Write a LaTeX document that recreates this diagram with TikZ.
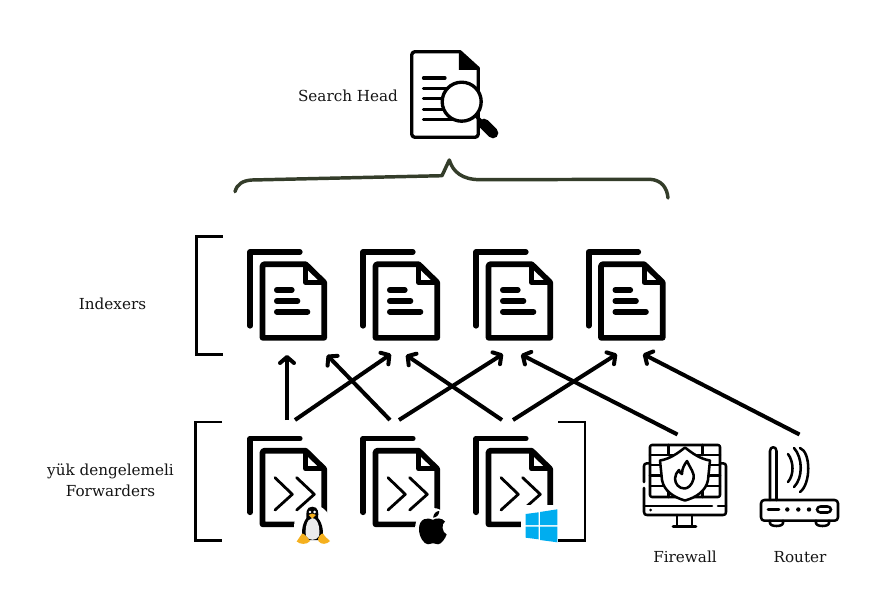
\documentclass[tikz,border=0pt]{standalone}
\usepackage{fontspec}
\setmainfont{DejaVu Serif}
\usetikzlibrary{arrows.meta}

\definecolor{bracecol}{HTML}{343D2A}
\definecolor{winblue}{HTML}{00ADEF}
\definecolor{tuxorange}{HTML}{F5B01E}

\tikzset{
  labeltext/.style={inner sep=0.75pt,font=\fontsize{11.4}{15.75}\selectfont,align=center,text=black!92},
  thickdoc/.style={line width=4.2pt,line cap=round,line join=round},
  flowarrow/.style={line width=3pt,-{Straight Barb[length=4.5pt,width=10.5pt,round]}},
  groupbracket/.style={line width=1.9pt},
  thinicon/.style={line width=1.9pt,line cap=round,line join=round},
  docpage/.pic={
    \draw [thickdoc] (51.8,2) -- (2.2,2) -- (2.2,75.8);
    \draw [thickdoc] (57.7,14.2) -- (16,14.2) -- (14.5,15.7) -- (14.5,87.8) -- (76.2,87.8) -- (76.2,32.3) -- cycle;
    \draw [line width=4pt,line join=round] (57.7,14.2) -- (57.7,32.3) -- (76.2,32.3);
  },
  indexerdoc/.pic={
    \pic {docpage};
    \draw [thickdoc] (28.8,40) -- (43.8,40);
    \draw [thickdoc] (28.8,51) -- (49.5,51);
    \draw [thickdoc] (28.8,61.7) -- (59.5,61.7);
  },
  forwarderdoc/.pic={
    \pic {docpage};
    \draw [line width=2.1pt,line cap=round,line join=round] (27,41.2) -- (44.3,57.8) -- (27,73.5);
    \draw [line width=2.1pt,line cap=round,line join=round] (48.7,41.2) -- (66.3,57.8) -- (48.7,73.5);
  },
}

\begin{document}
\begin{tikzpicture}[x=0.75pt,y=-0.75pt]
\useasboundingbox (0,0) rectangle (882,613);

%Shape: Search Head document
\draw [line width=2.5pt,line join=round] (460,51.7) -- (415,51.7) .. controls (413,51.7) and (411.7,53) .. (411.7,55) -- (411.7,134) .. controls (411.7,136) and (413,137.3) .. (415,137.3) -- (475,137.3) .. controls (477,137.3) and (478.3,136) .. (478.3,134) -- (478.3,68.3) -- cycle;
\fill [black] (458.8,50.5) -- (458.8,70) -- (479.5,70) -- cycle;
\draw [line width=2.5pt,line cap=round] (423.5,78) -- (445,78);
\draw [line width=2.5pt,line cap=round] (423.5,88.3) -- (450,88.3);
\draw [line width=2.5pt,line cap=round] (423.5,98.7) -- (450,98.7);
\draw [line width=2.5pt,line cap=round] (423.5,109.3) -- (450,109.3);
\draw [line width=2.5pt,line cap=round] (423.5,119.3) -- (455,119.3);
\draw [line width=2.5pt,fill=white] (461.7,101.7) circle [radius=19.5];
\draw [line width=2.5pt] (476,116) -- (484,124);
\draw [line width=8pt,line cap=round] (484,124) -- (493,133);

%Shape: Brace
\draw [bracecol,line width=2.6pt,line cap=round,line join=round] (235,191.7) .. controls (237,184) and (243,180.5) .. (252,180) -- (442,175.7) -- (449.3,160) .. controls (453,172) and (462,179.5) .. (480,179.7) -- (650,179.3) .. controls (661,180) and (667,187) .. (668,198);

%Shape: Indexer documents
\pic at (248,250) {indexerdoc};
\pic at (361,250) {indexerdoc};
\pic at (474,250) {indexerdoc};
\pic at (586.5,250) {indexerdoc};

%Shape: Forwarder documents
\pic at (248,436.5) {forwarderdoc};
\pic at (361,436.5) {forwarderdoc};
\pic at (474,436.5) {forwarderdoc};

%Shape: Group brackets
\draw [groupbracket] (222.5,236.7) -- (196.7,236.7) -- (196.7,354.3) -- (222.5,354.3);
\draw [groupbracket] (222,422) -- (195.5,422) -- (195.5,540.7) -- (222,540.7);
\draw [groupbracket] (558.3,422) -- (585,422) -- (585,540.7) -- (558.3,540.7);

%Shape: Tux
\fill [white] (313,527) ellipse [x radius=19,y radius=22];
\fill [black] (312.3,506.7) .. controls (306,506.7) and (306,513) .. (306.5,518) .. controls (302,524) and (301,533) .. (303,540) -- (322,540) .. controls (324,533) and (323,524) .. (318,518) .. controls (318.7,513) and (318.7,506.7) .. (312.3,506.7) -- cycle;
\fill [black!8] (312.3,518) .. controls (306,519) and (305,530) .. (306,536) .. controls (308,541) and (317,541) .. (319,536) .. controls (320,530) and (319,519) .. (312.3,518) -- cycle;
\fill [white] (310,512) circle [radius=1.4];
\fill [white] (314.6,512) circle [radius=1.4];
\fill [tuxorange] (308.5,515) -- (312.3,513.5) -- (316,515) -- (312.3,518.5) -- cycle;
\fill [tuxorange] (302,533.5) .. controls (304,533) and (308,538) .. (310,541) .. controls (307,545) and (300,544.5) .. (296.7,541.5) .. controls (298,539) and (300,537) .. (302,533.5) -- cycle;
\fill [tuxorange] (323,533.5) .. controls (321,533) and (317,538) .. (318.3,541) .. controls (321,545) and (327,544.5) .. (330,541) .. controls (328,539) and (325,537) .. (323,533.5) -- cycle;

%Shape: Apple
\fill [white] (433,529) ellipse [x radius=18,y radius=21];
\fill [black] (433,519.8) .. controls (428,517) and (419,518) .. (419,529) .. controls (419,537) and (424,544.3) .. (428,544.3) .. controls (430,544.3) and (431,543.2) .. (433,543.2) .. controls (435,543.2) and (436,544.3) .. (438,544.3) .. controls (441,544.3) and (445,539) .. (446.7,534.5) .. controls (442,532.5) and (441,524) .. (445,521.5) .. controls (442,517.5) and (436,518) .. (433,519.8) -- cycle;
\fill [black] (433.2,517.7) .. controls (433.2,514) and (436,511) .. (439.3,511) .. controls (439.5,514.5) and (436.5,517.5) .. (433.2,517.7) -- cycle;

%Shape: Windows
\fill [white] (521,505) rectangle (558,546);
\fill [winblue] (525.7,514) -- (538.5,512.3) -- (538.5,525) -- (525.7,525) -- cycle;
\fill [winblue] (540,512) -- (557.3,509.3) -- (557.3,525) -- (540,525) -- cycle;
\fill [winblue] (525.7,526.7) -- (538.5,526.7) -- (538.5,539.3) -- (525.7,537.7) -- cycle;
\fill [winblue] (540,526.7) -- (557.3,526.7) -- (557.3,542.3) -- (540,540) -- cycle;

%Shape: Firewall
\draw [thinicon] (650,463.3) -- (647,463.3) .. controls (645,463.3) and (644,464.5) .. (644,466) -- (644,482);
\draw [thinicon] (644,488) -- (644,512) .. controls (644,514) and (645,515) .. (647,515) -- (723,515) .. controls (725,515) and (726,514) .. (726,512) -- (726,466) .. controls (726,464.5) and (725,463.3) .. (723,463.3) -- (720,463.3);
\draw [thinicon] (644,506) -- (712,506);
\draw [thinicon] (718,506) -- (726,506);
\fill (650.7,510) circle [radius=1.5];
\draw [thinicon] (677,515) -- (677,526);
\draw [thinicon] (692,515) -- (692,526);
\draw [thinicon] (673,526.5) -- (696,526.5);
\draw [thinicon,rounded corners=1.5pt] (650,497) -- (650,445) -- (720,445) -- (720,497) -- cycle;
\draw [thinicon] (650,455) -- (720,455);
\draw [thinicon] (650,465) -- (720,465);
\draw [thinicon] (650,475.7) -- (720,475.7);
\draw [thinicon] (650,486) -- (720,486);
\draw [thinicon] (668.3,445) -- (668.3,455);
\draw [thinicon] (702.7,445) -- (702.7,455);
\draw [thinicon] (668.3,486) -- (668.3,497);
\draw [thinicon] (702.7,486) -- (702.7,497);
%Shape: Firewall shield
\draw [thinicon,fill=white] (685,447.5) .. controls (692,453) and (700,459) .. (710,460.5) -- (708,480) .. controls (706,491) and (696,497.5) .. (685,500.5) .. controls (674,497.5) and (664,491) .. (662,480) -- (660,460.5) .. controls (670,459) and (678,453) .. (685,447.5) -- cycle;
\draw [thinicon] (687,461) .. controls (690,468) and (695,473) .. (693.5,479) .. controls (692,485) and (688,488.5) .. (684.5,488.5) .. controls (679,488.5) and (675,484) .. (675,478.5) .. controls (675,475) and (677,472) .. (679,470) .. controls (679.5,472) and (680.5,473.5) .. (682,474) .. controls (682,469) and (684,465) .. (687,461) -- cycle;

%Shape: Router
\draw [thinicon,rounded corners=2.5pt] (761,500) rectangle (838,520.7);
\draw [thinicon] (770,520.7) -- (770,523) .. controls (770,527) and (783,527) .. (783,523) -- (783,520.7);
\draw [thinicon] (816,520.7) -- (816,523) .. controls (816,527) and (829,527) .. (829,523) -- (829,520.7);
\draw [thinicon] (770,500) -- (770,451) .. controls (770,446) and (776.5,446) .. (776.5,451) -- (776.5,500);
\draw [thinicon] (788,454) .. controls (794,462) and (794,475) .. (788,482);
\draw [thinicon] (794,448) .. controls (803,458) and (803,478) .. (794,487);
\draw [thinicon] (800,448) .. controls (811,452) and (811,484) .. (800,492);
\draw [line width=2.2pt,line cap=round] (768,509.5) -- (779,509.5);
\fill (787.3,509.5) circle [radius=2.2];
\fill (798.3,509.5) circle [radius=2.2];
\fill (809,509.5) circle [radius=2.2];
\draw [thinicon,rounded corners=2.5pt] (817,506.5) rectangle (831,512.5);

%Shape: Flow arrows
\coordinate (fwdA1) at (287,420);
\coordinate (idxA) at (287,355);
\coordinate (fwdA2) at (295,420);
\coordinate (idxB1) at (391,354);
\coordinate (fwdB1) at (390,420);
\coordinate (idxA2) at (327,355);
\coordinate (fwdB2) at (399,420);
\coordinate (idxC1) at (503,354);
\coordinate (fwdC1) at (502,420);
\coordinate (idxB2) at (406,355);
\coordinate (fwdC2) at (513,420);
\coordinate (idxD1) at (617,354);
\coordinate (firewall) at (677.5,434.5);
\coordinate (idxC2) at (521,354.5);
\coordinate (router) at (799.5,434.5);
\coordinate (idxD2) at (643,354);
\draw [flowarrow] (fwdA1) -- (idxA);
\draw [flowarrow] (fwdA2) -- (idxB1);
\draw [flowarrow] (fwdB1) -- (idxA2);
\draw [flowarrow] (fwdB2) -- (idxC1);
\draw [flowarrow] (fwdC1) -- (idxB2);
\draw [flowarrow] (fwdC2) -- (idxD1);
\draw [flowarrow] (firewall) -- (idxC2);
\draw [flowarrow] (router) -- (idxD2);

% Text Node
\node (searchlabel) [labeltext] at (348,96) {Search Head};
% Text Node
\node (indexerlabel) [labeltext] at (112.5,304) {Indexers};
% Text Node
\node (forwarderlabel) [labeltext] at (110.5,480.5) {yük dengelemeli\\Forwarders};
% Text Node
\node (firewalllabel) [labeltext] at (685,557) {Firewall};
% Text Node
\node (routerlabel) [labeltext] at (800,557) {Router};

\end{tikzpicture}
\end{document}
